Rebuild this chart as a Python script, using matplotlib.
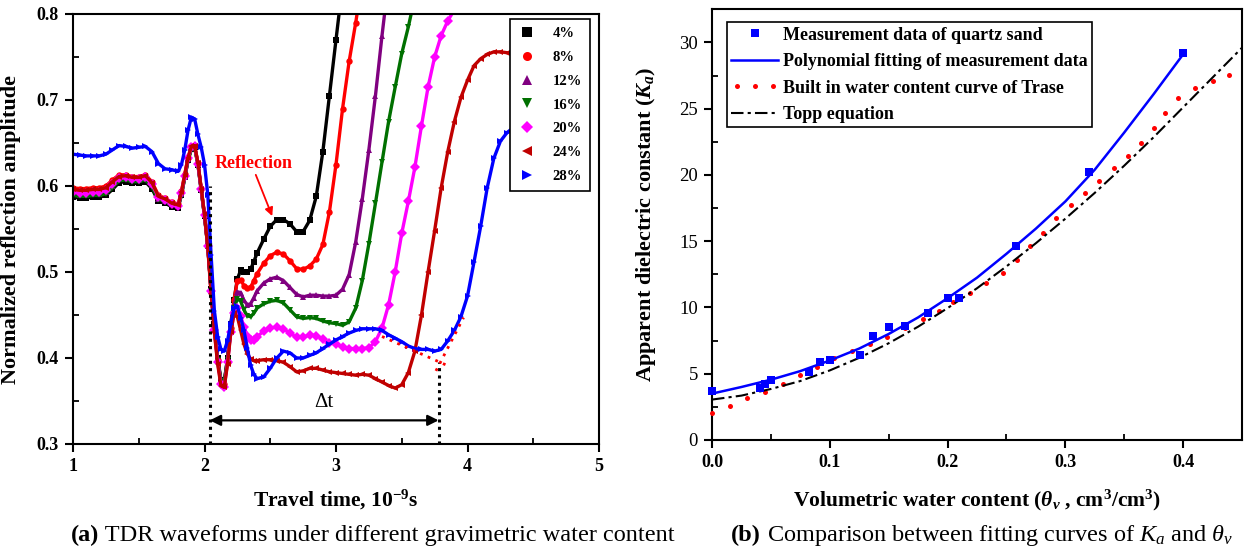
import matplotlib
matplotlib.use('Agg')
import matplotlib.pyplot as plt
from matplotlib.lines import Line2D
from matplotlib.legend_handler import HandlerLine2D
from matplotlib.ticker import MultipleLocator

plt.rcParams['font.family'] = ['Liberation Serif', 'DejaVu Serif']
plt.rcParams['mathtext.fontset'] = 'custom'
plt.rcParams['mathtext.rm'] = 'Liberation Serif'
plt.rcParams['mathtext.it'] = 'Liberation Serif:italic'
plt.rcParams['mathtext.bf'] = 'Liberation Serif:bold'
plt.rcParams['mathtext.bfit'] = 'Liberation Serif:italic:bold'

# ---------------- (a) TDR waveforms ----------------
time_ns = [1.00, 1.05, 1.10, 1.15, 1.20, 1.25, 1.30, 1.35, 1.40, 1.45, 1.50, 1.55, 1.60, 1.65, 1.70, 1.75, 1.80,
           1.825, 1.85, 1.875, 1.90, 1.925, 1.95, 1.975, 2.00, 2.025, 2.05, 2.075, 2.10, 2.125, 2.15, 2.175, 2.20,
           2.225, 2.25, 2.275, 2.30, 2.325, 2.35, 2.375, 2.40,
           2.45, 2.50, 2.55, 2.60, 2.65, 2.70, 2.75, 2.80, 2.85, 2.90, 2.95, 3.00, 3.05, 3.10, 3.15, 3.20, 3.25,
           3.30, 3.35, 3.40, 3.45, 3.50, 3.55, 3.60, 3.65, 3.70, 3.75, 3.80, 3.85, 3.90, 3.95, 4.00, 4.05, 4.10,
           4.15, 4.20, 4.25, 4.30, 4.35, 4.40, 4.45, 4.50]

wc_labels = ['4%', '8%', '12%', '16%', '20%', '24%', '28%']

amp_4 = [0.587, 0.586, 0.586, 0.587, 0.587, 0.589, 0.596, 0.604, 0.605, 0.603, 0.603, 0.605, 0.597, 0.582, 0.580, 0.576, 0.575,
         0.590, 0.610, 0.630, 0.643, 0.645, 0.625, 0.595, 0.565, 0.530, 0.480, 0.440, 0.400, 0.375, 0.372, 0.400, 0.440,
         0.468, 0.492, 0.502, 0.500, 0.500, 0.503, 0.512, 0.522,
         0.538, 0.553, 0.561, 0.561, 0.556, 0.547, 0.547, 0.560, 0.588, 0.640, 0.705, 0.770, 0.835]
amp_8 = [0.598, 0.597, 0.597, 0.598, 0.598, 0.600, 0.607, 0.613, 0.613, 0.611, 0.611, 0.613, 0.605, 0.589, 0.586, 0.581, 0.579,
         0.594, 0.614, 0.633, 0.646, 0.647, 0.627, 0.597, 0.567, 0.530, 0.478, 0.435, 0.398, 0.372, 0.370, 0.395, 0.435,
         0.468, 0.490, 0.491, 0.484, 0.481, 0.482, 0.490, 0.498,
         0.510, 0.519, 0.523, 0.521, 0.513, 0.504, 0.503, 0.507, 0.515, 0.532, 0.570, 0.625, 0.690, 0.745, 0.790, 0.840]
amp_12 = [0.591, 0.590, 0.590, 0.591, 0.591, 0.593, 0.600, 0.608, 0.609, 0.607, 0.607, 0.609, 0.601, 0.585, 0.583, 0.579, 0.577,
          0.591, 0.611, 0.631, 0.644, 0.646, 0.626, 0.596, 0.566, 0.530, 0.478, 0.435, 0.398, 0.373, 0.372, 0.398, 0.435,
          0.462, 0.477, 0.476, 0.467, 0.462, 0.463, 0.470, 0.478,
          0.487, 0.492, 0.494, 0.490, 0.482, 0.474, 0.471, 0.473, 0.473, 0.472, 0.472, 0.473, 0.480, 0.497, 0.535,
          0.585, 0.642, 0.705, 0.775, 0.840]
amp_16 = [0.589, 0.588, 0.588, 0.589, 0.589, 0.591, 0.598, 0.606, 0.607, 0.605, 0.605, 0.607, 0.599, 0.584, 0.582, 0.578, 0.576,
          0.590, 0.610, 0.630, 0.643, 0.645, 0.625, 0.595, 0.565, 0.530, 0.478, 0.435, 0.398, 0.373, 0.372, 0.398, 0.432,
          0.458, 0.469, 0.466, 0.456, 0.449, 0.448, 0.452, 0.458,
          0.463, 0.466, 0.467, 0.464, 0.456, 0.448, 0.446, 0.447, 0.446, 0.443, 0.441, 0.440, 0.438, 0.442, 0.458,
          0.490, 0.533, 0.580, 0.628, 0.675, 0.715, 0.754, 0.785, 0.820]
amp_20 = [0.593, 0.592, 0.592, 0.593, 0.593, 0.595, 0.602, 0.609, 0.610, 0.608, 0.608, 0.610, 0.602, 0.587, 0.584, 0.579, 0.577,
          0.592, 0.612, 0.632, 0.645, 0.646, 0.626, 0.596, 0.566, 0.530, 0.478, 0.432, 0.395, 0.370, 0.366, 0.395, 0.430,
          0.452, 0.458, 0.449, 0.436, 0.426, 0.421, 0.421, 0.425,
          0.431, 0.435, 0.436, 0.434, 0.429, 0.424, 0.424, 0.427, 0.426, 0.422, 0.418, 0.416, 0.413, 0.411, 0.411,
          0.411, 0.412, 0.419, 0.435, 0.462, 0.500, 0.545, 0.582, 0.622, 0.670, 0.715, 0.750, 0.775, 0.792, 0.805]
amp_24 = [0.596, 0.595, 0.595, 0.596, 0.596, 0.598, 0.605, 0.611, 0.612, 0.610, 0.610, 0.612, 0.604, 0.588, 0.585, 0.580, 0.578,
          0.593, 0.613, 0.633, 0.646, 0.647, 0.627, 0.597, 0.567, 0.528, 0.475, 0.430, 0.393, 0.368, 0.366, 0.393, 0.430,
          0.452, 0.448, 0.432, 0.416, 0.405, 0.399, 0.397, 0.397,
          0.398, 0.398, 0.397, 0.395, 0.390, 0.384, 0.385, 0.388, 0.388, 0.386, 0.384, 0.383, 0.382, 0.381, 0.380,
          0.381, 0.380, 0.376, 0.372, 0.368, 0.365, 0.369, 0.383, 0.408, 0.450, 0.500, 0.548, 0.598, 0.640, 0.675,
          0.703, 0.723, 0.740, 0.748, 0.753, 0.756, 0.756, 0.755, 0.754, 0.753, 0.752, 0.752]
amp_28 = [0.637, 0.636, 0.635, 0.635, 0.635, 0.637, 0.642, 0.647, 0.646, 0.644, 0.645, 0.646, 0.640, 0.626, 0.620, 0.619, 0.617,
          0.625, 0.642, 0.665, 0.680, 0.678, 0.660, 0.645, 0.625, 0.590, 0.520, 0.455, 0.425, 0.410, 0.408, 0.420, 0.440,
          0.458, 0.460, 0.447, 0.432, 0.412, 0.392, 0.381, 0.376,
          0.378, 0.388, 0.400, 0.408, 0.406, 0.400, 0.400, 0.403, 0.406, 0.411, 0.416, 0.421, 0.425, 0.429, 0.432,
          0.434, 0.434, 0.434, 0.432, 0.427, 0.423, 0.419, 0.414, 0.411, 0.410, 0.410, 0.408, 0.410, 0.420, 0.432,
          0.448, 0.472, 0.512, 0.553, 0.598, 0.632, 0.652, 0.662, 0.668, 0.672, 0.675, 0.677]

amp_series = [amp_4, amp_8, amp_12, amp_16, amp_20, amp_24, amp_28]
colors_a = ['#000000', '#ff0000', '#800080', '#007000', '#ff00ff', '#c00000', '#0000ff']
markers_a = ['s', 'o', '^', 'v', 'D', '<', '>']

# reflection-point construction
t_start = 2.04
t_end = 3.78
tangent1_t = [3.35, 3.85]
tangent1_a = [0.425, 0.391]
tangent2_t = [3.76, 3.97]
tangent2_a = [0.385, 0.447]

# ---------------- (b) Ka vs theta ----------------
meas_theta = [0.000, 0.041, 0.045, 0.050, 0.082, 0.092, 0.100, 0.126, 0.137, 0.150, 0.164, 0.183, 0.200, 0.210,
              0.258, 0.320, 0.400]
meas_ka = [3.7, 3.95, 4.25, 4.5, 5.15, 5.9, 6.0, 6.4, 7.85, 8.5, 8.6, 9.6, 10.75, 10.75, 14.65, 20.2, 29.2]

fit_theta = [0.000, 0.025, 0.050, 0.075, 0.100, 0.125, 0.150, 0.175, 0.200, 0.225, 0.250, 0.275, 0.300, 0.325,
             0.350, 0.375, 0.400]
fit_ka = [3.5, 4.0, 4.55, 5.2, 6.0, 6.9, 8.0, 9.25, 10.7, 12.25, 14.05, 15.95, 18.0, 20.4, 23.2, 26.1, 29.1]

trase_theta = [0.000, 0.0157, 0.030, 0.045, 0.060, 0.0746, 0.089, 0.104, 0.119, 0.134, 0.149, 0.164, 0.179, 0.193,
               0.205, 0.219, 0.233, 0.247, 0.259, 0.270, 0.281, 0.292, 0.305, 0.317, 0.329, 0.341, 0.353, 0.364,
               0.375, 0.385, 0.396, 0.410, 0.425, 0.439]
trase_ka = [2.06, 2.56, 3.14, 3.65, 4.25, 4.9, 5.5, 6.16, 6.71, 7.24, 7.74, 8.42, 9.13, 9.76,
            10.43, 11.11, 11.87, 12.62, 13.58, 14.63, 15.64, 16.72, 17.73, 18.66, 19.56, 20.49, 21.42, 22.43,
            23.56, 24.64, 25.82, 26.58, 27.08, 27.53]

topp_theta = [0.000, 0.025, 0.050, 0.075, 0.100, 0.125, 0.150, 0.175, 0.200, 0.225, 0.250, 0.275, 0.300, 0.325,
              0.350, 0.375, 0.400, 0.425, 0.450]
topp_ka = [3.05, 3.35, 3.85, 4.45, 5.25, 6.2, 7.3, 8.55, 9.95, 11.45, 13.1, 14.85, 16.7, 18.65,
           20.7, 22.85, 25.1, 27.35, 29.6]

W, H = 1244, 554
fig = plt.figure(figsize=(W / 100, H / 100), dpi=100)

ax1 = fig.add_axes([73 / W, 110 / H, 526 / W, 430 / H])
for y, c, m, lab in zip(amp_series, colors_a, markers_a, wc_labels):
    ax1.plot(time_ns[:len(y)], y, color=c, marker=m, ms=4.6, mew=0, lw=2.4, label=lab)

dot_style = (0, (1, 1.4))
ax1.plot([t_start, t_start], [0.3, 0.6], color='black', lw=2.2, ls=dot_style)
ax1.plot([t_end, t_end], [0.3, 0.395], color='black', lw=2.2, ls=dot_style)
ax1.plot(tangent1_t, tangent1_a, color='red', lw=2.0, ls=(0, (1, 2)))
ax1.plot(tangent2_t, tangent2_a, color='red', lw=2.0, ls=(0, (1, 2)))
ax1.annotate('', xy=(t_start, 0.3275), xytext=(t_end, 0.3275),
             arrowprops=dict(arrowstyle='<|-|>', color='black', lw=1.6, mutation_scale=16,
                             shrinkA=0, shrinkB=0))
ax1.text((t_start + t_end) / 2, 0.337, '\u0394t', ha='center', va='bottom', fontsize=15)
ax1.text(2.37, 0.626, 'Reflection', ha='center', va='center', fontsize=13, fontweight='bold', color='red')
ax1.annotate('', xy=(2.515, 0.565), xytext=(2.39, 0.613),
             arrowprops=dict(arrowstyle='-|>', color='red', lw=1.3, mutation_scale=12,
                             shrinkA=0, shrinkB=0))

ax1.set_xlim(1, 5)
ax1.set_ylim(0.3, 0.8)
ax1.xaxis.set_major_locator(MultipleLocator(1))
ax1.xaxis.set_minor_locator(MultipleLocator(0.5))
ax1.yaxis.set_minor_locator(MultipleLocator(0.05))
ax1.set_yticks([0.3, 0.4, 0.5, 0.6, 0.7, 0.8])
ax1.set_yticklabels(['0.3', '0.4', '0.5', '0.6', '0.7', '0.8'])

ax1.set_xlabel('Travel time, 10$^{\\mathbf{-9}}$s', fontsize=15.5, fontweight='bold')
ax1.set_ylabel('Normalized reflection amplitude', fontsize=16, fontweight='bold')
ax1.xaxis.set_label_coords(0.5, -0.103)
ax1.yaxis.set_label_coords(-0.099, 0.5)

leg_handles = [Line2D([], [], ls='none', marker=m, color=c, ms=6.5, mew=0)
               for m, c in zip(markers_a, colors_a)]
leg1 = ax1.legend(leg_handles, wc_labels, loc='upper right', bbox_to_anchor=(0.983, 0.988),
                  fancybox=False, framealpha=1, edgecolor='black', borderaxespad=0,
                  prop={'weight': 'bold', 'size': 10.5}, labelspacing=0.72, handlelength=1.3,
                  handletextpad=1.1, borderpad=0.55)
leg1.get_frame().set_linewidth(1.2)
leg1.set_zorder(10)

# ---------------- axes (b) ----------------
ax2 = fig.add_axes([712 / W, 114 / H, 530 / W, 430.7 / H])
h_meas, = ax2.plot(meas_theta, meas_ka, ls='none', marker='s', ms=6, color='#0000ff', mew=0, zorder=5, clip_on=False)
h_fit, = ax2.plot(fit_theta, fit_ka, color='#0000ff', lw=1.8, zorder=4)
h_trase, = ax2.plot(trase_theta, trase_ka, ls='none', marker='o', ms=3.6, color='#ff0000', mew=0, zorder=3, clip_on=False)
h_topp, = ax2.plot(topp_theta, topp_ka, color='black', lw=1.5, ls=(0, (6, 2, 1.5, 2)), zorder=3)

ax2.set_xlim(0, 0.45)
ax2.set_ylim(0, 32.5)
ax2.xaxis.set_minor_locator(MultipleLocator(0.05))
ax2.yaxis.set_major_locator(MultipleLocator(5))
ax2.yaxis.set_minor_locator(MultipleLocator(2.5))
ax2.set_xticks([0.0, 0.1, 0.2, 0.3, 0.4])
ax2.set_xticklabels(['0.0', '0.1', '0.2', '0.3', '0.4'])

ax2.set_xlabel('Volumetric water content ($\\mathbfit{\\theta}_{\\mathbfit{v}}$ , cm$^{\\mathbf{3}}$/cm$^{\\mathbf{3}}$)',
               fontsize=15.5, fontweight='bold')
ax2.set_ylabel('Apparent dielectric constant ($\\mathbfit{K}_{\\mathbfit{a}}$)', fontsize=16, fontweight='bold')
ax2.xaxis.set_label_coords(0.5, -0.112)
ax2.yaxis.set_label_coords(-0.101, 0.5)

leg2 = ax2.legend([h_meas, h_fit, h_trase, h_topp],
                  ['Measurement data of quartz sand', 'Polynomial fitting of measurement data',
                   'Built in water content curve of Trase', 'Topp equation'],
                  handler_map={h_trase: HandlerLine2D(numpoints=3)},
                  loc='upper left', bbox_to_anchor=(0.028, 0.970), fancybox=False, framealpha=1,
                  edgecolor='black', borderaxespad=0, prop={'weight': 'bold', 'size': 13},
                  labelspacing=0.52, handlelength=2.6, handletextpad=0.25, borderpad=0.25)
leg2.get_frame().set_linewidth(1.2)

for ax in (ax1, ax2):
    for s in ax.spines.values():
        s.set_linewidth(1.5)
    ax.tick_params(which='major', direction='out', length=6, width=1.5, pad=4)
    ax.tick_params(which='minor', direction='in', length=4, width=1.3)

for lab in ax1.get_xticklabels() + ax1.get_yticklabels() + ax2.get_xticklabels():
    lab.set_fontweight('bold')
    lab.set_fontsize(13)
for lab in ax2.get_yticklabels():
    lab.set_fontsize(13.5)

# ---------------- captions ----------------
cap_y = 1 - 535 / H
cap_a = fig.text(71 / W, cap_y, '(a)', fontsize=17.5, fontweight='bold', va='center', ha='left')
ax1.annotate(' TDR waveforms under different gravimetric water content', xy=(1, 0.5), xycoords=cap_a,
             va='center', ha='left', fontsize=17.5, annotation_clip=False)
cap_b = fig.text(731 / W, cap_y, '(b)', fontsize=17.5, fontweight='bold', va='center', ha='left')
ax2.annotate(' Comparison between fitting curves of $K_a$ and $\\theta_v$', xy=(1, 0.5), xycoords=cap_b,
             va='center', ha='left', fontsize=17.5, annotation_clip=False)

fig.savefig('out.png', dpi=100)
